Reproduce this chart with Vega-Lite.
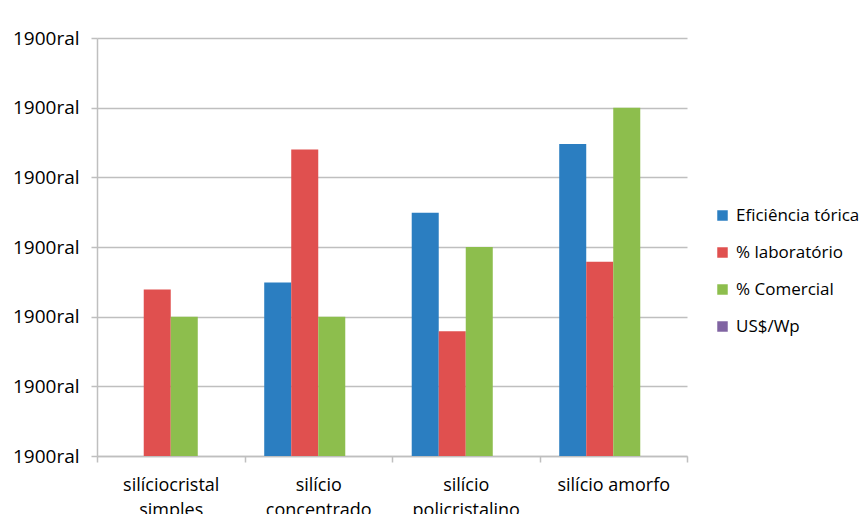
{
  "$schema": "https://vega.github.io/schema/vega-lite/v6.json",
  "width": 590,
  "height": 418,
  "autosize": {"type": "none"},
  "padding": {"left": 97, "top": 38, "right": 181, "bottom": 58},
  "background": "white",
  "config": {
    "view": {"stroke": null},
    "font": "Open Sans",
    "axis": {"labelFont": "Open Sans", "labelColor": "#000000", "labelFontSize": 18}
  },
  "data": {
    "values": [
      {"cat": "silíciocristal simples", "serie": "Eficiência tórica", "v": 0},
      {"cat": "silíciocristal simples", "serie": "% laboratório", "v": 2.39},
      {"cat": "silíciocristal simples", "serie": "% Comercial", "v": 2.0},
      {"cat": "silíciocristal simples", "serie": "US$/Wp", "v": 0},
      {"cat": "silício concentrado", "serie": "Eficiência tórica", "v": 2.49},
      {"cat": "silício concentrado", "serie": "% laboratório", "v": 4.4},
      {"cat": "silício concentrado", "serie": "% Comercial", "v": 2.0},
      {"cat": "silício concentrado", "serie": "US$/Wp", "v": 0},
      {"cat": "silício policristalino", "serie": "Eficiência tórica", "v": 3.49},
      {"cat": "silício policristalino", "serie": "% laboratório", "v": 1.79},
      {"cat": "silício policristalino", "serie": "% Comercial", "v": 3.0},
      {"cat": "silício policristalino", "serie": "US$/Wp", "v": 0},
      {"cat": "silício amorfo", "serie": "Eficiência tórica", "v": 4.48},
      {"cat": "silício amorfo", "serie": "% laboratório", "v": 2.79},
      {"cat": "silício amorfo", "serie": "% Comercial", "v": 5.0},
      {"cat": "silício amorfo", "serie": "US$/Wp", "v": 0}
    ]
  },
  "mark": {"type": "bar"},
  "encoding": {
    "x": {
      "field": "cat",
      "type": "nominal",
      "sort": null,
      "title": null,
      "scale": {"paddingInner": 0, "paddingOuter": 0},
      "axis": {
        "labelAngle": 0,
        "labelExpr": "!isString(datum.value) ? '' : (datum.value == 'silício amorfo' ? datum.value : split(datum.value, ' '))",
        "labelLineHeight": 25,
        "labelPadding": 14,
        "labelBaseline": "top",
        "tickBand": "extent",
        "domainColor": "#BFBFBF",
        "domainWidth": 1.5,
        "tickColor": "#BFBFBF",
        "tickWidth": 1.5,
        "tickSize": 6,
        "grid": false
      }
    },
    "xOffset": {
      "field": "serie",
      "type": "nominal",
      "sort": ["Eficiência tórica", "% laboratório", "% Comercial", "US$/Wp"],
      "scale": {"paddingInner": 0, "paddingOuter": 0.73}
    },
    "y": {
      "field": "v",
      "type": "quantitative",
      "title": null,
      "scale": {"domain": [0, 6], "nice": false},
      "axis": {
        "values": [0, 1, 2, 3, 4, 5, 6],
        "labelExpr": "'1900ral'",
        "labelPadding": 12,
        "labelFontSize": 19,
        "tickSize": 6,
        "tickColor": "#BFBFBF",
        "tickWidth": 1.5,
        "domainColor": "#BFBFBF",
        "domainWidth": 1.5,
        "gridColor": "#BFBFBF",
        "gridWidth": 1.5
      }
    },
    "color": {
      "field": "serie",
      "type": "nominal",
      "sort": ["Eficiência tórica", "% laboratório", "% Comercial", "US$/Wp"],
      "scale": {
        "domain": ["Eficiência tórica", "% laboratório", "% Comercial", "US$/Wp"],
        "range": ["#2B7EC1", "#E0504F", "#8DBE4D", "#8064A2"]
      },
      "legend": {
        "title": null,
        "orient": "none",
        "legendX": 617,
        "legendY": 169,
        "symbolType": "square",
        "symbolSize": 110,
        "symbolStrokeWidth": 0,
        "labelFontSize": 17,
        "labelFont": "Open Sans",
        "labelColor": "#000000",
        "rowPadding": 19,
        "labelOffset": 5
      }
    }
  }
}
